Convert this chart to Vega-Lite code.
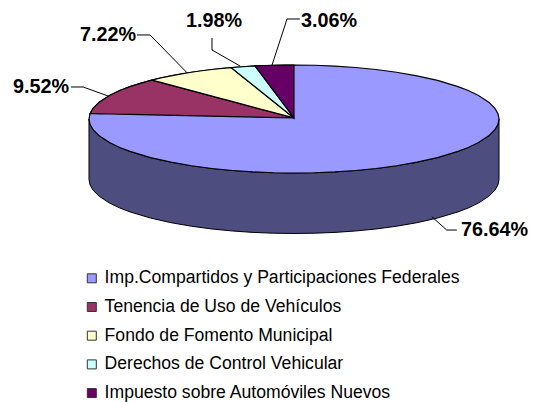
{"$schema":"https://vega.github.io/schema/vega-lite/v6.json","width":535,"height":402,"padding":0,"autosize":"none","background":"white","config":{"view":{"stroke":null},"font":"Liberation Sans"},
"datasets":{
"wall":[{"u":-1,"v":0,"v2":-1.12},{"u":-0.995,"v":-0.1,"v2":-1.22},{"u":-0.98,"v":-0.199,"v2":-1.319},{"u":-0.95,"v":-0.312,"v2":-1.432},{"u":-0.9,"v":-0.436,"v2":-1.556},{"u":-0.85,"v":-0.527,"v2":-1.647},{"u":-0.8,"v":-0.6,"v2":-1.72},{"u":-0.7,"v":-0.714,"v2":-1.834},{"u":-0.6,"v":-0.8,"v2":-1.92},{"u":-0.5,"v":-0.866,"v2":-1.986},{"u":-0.4,"v":-0.917,"v2":-2.037},{"u":-0.3,"v":-0.954,"v2":-2.074},{"u":-0.2,"v":-0.98,"v2":-2.1},{"u":-0.1,"v":-0.995,"v2":-2.115},{"u":0,"v":-1,"v2":-2.12},{"u":0.1,"v":-0.995,"v2":-2.115},{"u":0.2,"v":-0.98,"v2":-2.1},{"u":0.3,"v":-0.954,"v2":-2.074},{"u":0.4,"v":-0.917,"v2":-2.037},{"u":0.5,"v":-0.866,"v2":-1.986},{"u":0.6,"v":-0.8,"v2":-1.92},{"u":0.7,"v":-0.714,"v2":-1.834},{"u":0.8,"v":-0.6,"v2":-1.72},{"u":0.85,"v":-0.527,"v2":-1.647},{"u":0.9,"v":-0.436,"v2":-1.556},{"u":0.95,"v":-0.312,"v2":-1.432},{"u":0.98,"v":-0.199,"v2":-1.319},{"u":0.995,"v":-0.1,"v2":-1.22},{"u":1,"v":0,"v2":-1.12}],
"top":[
{"slice":"Imp.Compartidos y Participaciones Federales","u":-1,"v":0,"v2":0},{"slice":"Imp.Compartidos y Participaciones Federales","u":-0.995,"v":0.1,"v2":-0.1},{"slice":"Imp.Compartidos y Participaciones Federales","u":-0.98,"v":0.199,"v2":-0.199},{"slice":"Imp.Compartidos y Participaciones Federales","u":-0.95,"v":0.312,"v2":-0.312},{"slice":"Imp.Compartidos y Participaciones Federales","u":-0.9,"v":0.436,"v2":-0.436},{"slice":"Imp.Compartidos y Participaciones Federales","u":-0.85,"v":0.527,"v2":-0.527},{"slice":"Imp.Compartidos y Participaciones Federales","u":-0.8,"v":0.6,"v2":-0.6},{"slice":"Imp.Compartidos y Participaciones Federales","u":-0.7,"v":0.714,"v2":-0.714},{"slice":"Imp.Compartidos y Participaciones Federales","u":-0.6,"v":0.8,"v2":-0.8},{"slice":"Imp.Compartidos y Participaciones Federales","u":-0.5,"v":0.866,"v2":-0.866},{"slice":"Imp.Compartidos y Participaciones Federales","u":-0.4,"v":0.917,"v2":-0.917},{"slice":"Imp.Compartidos y Participaciones Federales","u":-0.3,"v":0.954,"v2":-0.954},{"slice":"Imp.Compartidos y Participaciones Federales","u":-0.2,"v":0.98,"v2":-0.98},{"slice":"Imp.Compartidos y Participaciones Federales","u":-0.1,"v":0.995,"v2":-0.995},{"slice":"Imp.Compartidos y Participaciones Federales","u":0,"v":1,"v2":-1},{"slice":"Imp.Compartidos y Participaciones Federales","u":0.1,"v":0.995,"v2":-0.995},{"slice":"Imp.Compartidos y Participaciones Federales","u":0.2,"v":0.98,"v2":-0.98},{"slice":"Imp.Compartidos y Participaciones Federales","u":0.3,"v":0.954,"v2":-0.954},{"slice":"Imp.Compartidos y Participaciones Federales","u":0.4,"v":0.917,"v2":-0.917},{"slice":"Imp.Compartidos y Participaciones Federales","u":0.5,"v":0.866,"v2":-0.866},{"slice":"Imp.Compartidos y Participaciones Federales","u":0.6,"v":0.8,"v2":-0.8},{"slice":"Imp.Compartidos y Participaciones Federales","u":0.7,"v":0.714,"v2":-0.714},{"slice":"Imp.Compartidos y Participaciones Federales","u":0.8,"v":0.6,"v2":-0.6},{"slice":"Imp.Compartidos y Participaciones Federales","u":0.85,"v":0.527,"v2":-0.527},{"slice":"Imp.Compartidos y Participaciones Federales","u":0.9,"v":0.436,"v2":-0.436},{"slice":"Imp.Compartidos y Participaciones Federales","u":0.95,"v":0.312,"v2":-0.312},{"slice":"Imp.Compartidos y Participaciones Federales","u":0.98,"v":0.199,"v2":-0.199},{"slice":"Imp.Compartidos y Participaciones Federales","u":0.995,"v":0.1,"v2":-0.1},{"slice":"Imp.Compartidos y Participaciones Federales","u":1,"v":0,"v2":0},
{"slice":"Tenencia de Uso de Vehículos","u":-0.995,"v":0.1,"v2":0.1},{"slice":"Tenencia de Uso de Vehículos","u":-0.98,"v":0.199,"v2":0.0988},{"slice":"Tenencia de Uso de Vehículos","u":-0.95,"v":0.312,"v2":0.0964},{"slice":"Tenencia de Uso de Vehículos","u":-0.9,"v":0.436,"v2":0.0924},{"slice":"Tenencia de Uso de Vehículos","u":-0.85,"v":0.527,"v2":0.0883},{"slice":"Tenencia de Uso de Vehículos","u":-0.8,"v":0.6,"v2":0.0843},{"slice":"Tenencia de Uso de Vehículos","u":-0.75,"v":0.661,"v2":0.0803},{"slice":"Tenencia de Uso de Vehículos","u":-0.693,"v":0.721,"v2":0.0757},{"slice":"Tenencia de Uso de Vehículos","u":0,"v":0.02,"v2":0.02},
{"slice":"Fondo de Fomento Municipal","u":-0.693,"v":0.721,"v2":0.721},{"slice":"Fondo de Fomento Municipal","u":-0.65,"v":0.76,"v2":0.6775},{"slice":"Fondo de Fomento Municipal","u":-0.6,"v":0.8,"v2":0.627},{"slice":"Fondo de Fomento Municipal","u":-0.55,"v":0.835,"v2":0.576},{"slice":"Fondo de Fomento Municipal","u":-0.5,"v":0.866,"v2":0.526},{"slice":"Fondo de Fomento Municipal","u":-0.45,"v":0.893,"v2":0.475},{"slice":"Fondo de Fomento Municipal","u":-0.4,"v":0.917,"v2":0.425},{"slice":"Fondo de Fomento Municipal","u":-0.35,"v":0.937,"v2":0.374},{"slice":"Fondo de Fomento Municipal","u":-0.307,"v":0.952,"v2":0.3305},{"slice":"Fondo de Fomento Municipal","u":0,"v":0.02,"v2":0.02},
{"slice":"Derechos de Control Vehicular","u":-0.307,"v":0.952,"v2":0.952},{"slice":"Derechos de Control Vehicular","u":-0.25,"v":0.968,"v2":0.779},{"slice":"Derechos de Control Vehicular","u":-0.19,"v":0.982,"v2":0.597},{"slice":"Derechos de Control Vehicular","u":0,"v":0.02,"v2":0.02},
{"slice":"Impuesto sobre Automóviles Nuevos","u":-0.19,"v":0.982,"v2":0.982},{"slice":"Impuesto sobre Automóviles Nuevos","u":-0.1,"v":0.995,"v2":0.526},{"slice":"Impuesto sobre Automóviles Nuevos","u":-0.05,"v":0.999,"v2":0.273},{"slice":"Impuesto sobre Automóviles Nuevos","u":0,"v":1,"v2":0.02}],
"leaders":[
{"slice":"a","k":1,"u":0.672,"v":-1.809},{"slice":"a","k":2,"u":0.745,"v":-2.056},{"slice":"a","k":3,"u":0.794,"v":-2.056},
{"slice":"b","k":1,"u":-1.088,"v":0.593},{"slice":"b","k":2,"u":-1.029,"v":0.593},{"slice":"b","k":3,"u":-0.907,"v":0.426},
{"slice":"c","k":1,"u":-0.766,"v":1.556},{"slice":"c","k":2,"u":-0.702,"v":1.556},{"slice":"c","k":3,"u":-0.522,"v":0.857},
{"slice":"d","k":1,"u":-0.4,"v":1.5},{"slice":"d","k":2,"u":-0.4,"v":1.278},{"slice":"d","k":3,"u":-0.263,"v":0.981},
{"slice":"e","k":1,"u":0.029,"v":1.852},{"slice":"e","k":2,"u":-0.034,"v":1.852},{"slice":"e","k":3,"u":-0.107,"v":1.0}],
"shares":[
{"slice":"Imp.Compartidos y Participaciones Federales","share":0.7664,"u":0.815,"v":-2.056},
{"slice":"Tenencia de Uso de Vehículos","share":0.0952,"u":-1.371,"v":0.593},
{"slice":"Fondo de Fomento Municipal","share":0.0722,"u":-1.044,"v":1.556},
{"slice":"Derechos de Control Vehicular","share":0.0198,"u":-0.527,"v":1.815},
{"slice":"Impuesto sobre Automóviles Nuevos","share":0.0306,"u":0.034,"v":1.815}]},
"encoding":{"x":{"field":"u","type":"quantitative","axis":null,"scale":{"domain":[-1.4341,1.1756],"nice":false,"zero":false}},"y":{"field":"v","type":"quantitative","axis":null,"scale":{"domain":[-5.2407,2.2037],"nice":false,"zero":false}}},
"layer":[
{"data":{"name":"wall"},"mark":{"type":"area","fill":"#4d4d80","stroke":"#000000","strokeWidth":1},"encoding":{"y2":{"field":"v2"}}},
{"data":{"name":"top"},"mark":{"type":"area","stroke":"#000000","strokeWidth":1.2},"encoding":{"y2":{"field":"v2"},"color":{"field":"slice","type":"nominal","scale":{"domain":["Imp.Compartidos y Participaciones Federales","Tenencia de Uso de Vehículos","Fondo de Fomento Municipal","Derechos de Control Vehicular","Impuesto sobre Automóviles Nuevos"],"range":["#9999ff","#993366","#ffffcc","#ccffff","#660066"]},"legend":{"orient":"none","legendX":83,"legendY":269.5,"title":null,"symbolType":"square","symbolSize":81,"symbolStrokeColor":"#333333","symbolStrokeWidth":1,"symbolOpacity":1,"labelFont":"Liberation Sans","labelFontSize":17.6,"labelColor":"#000000","labelLimit":500,"labelOffset":4,"rowPadding":9.7}}}},
{"data":{"name":"leaders"},"mark":{"type":"line","color":"#000000","strokeWidth":1},"encoding":{"detail":{"field":"slice"},"order":{"field":"k","type":"quantitative"}}},
{"data":{"name":"shares"},"mark":{"type":"text","align":"left","baseline":"middle","font":"Liberation Sans","fontWeight":"bold","fontSize":19.8,"color":"#000000"},"encoding":{"text":{"field":"share","type":"quantitative","format":".2%"}}}
]}
